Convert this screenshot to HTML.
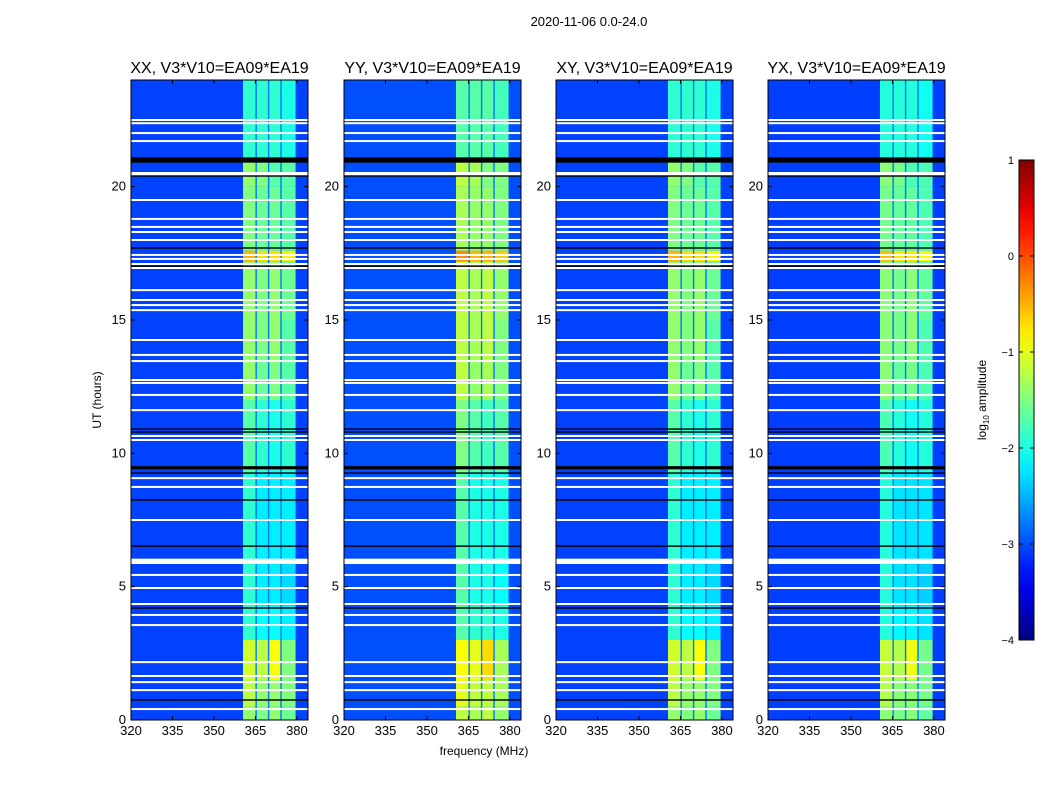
<!DOCTYPE html>
<html><head><meta charset="utf-8"><style>
body{margin:0;background:#fff;}
svg{display:block;font-family:"Liberation Sans","DejaVu Sans",sans-serif;}
</style></head><body>
<svg id="fig" width="1050" height="800" viewBox="0 0 1050 800">
<text x="589" y="26" font-size="13" text-anchor="middle">2020-11-06 0.0-24.0</text>
<text x="484" y="755" font-size="12" text-anchor="middle">frequency (MHz)</text>
<text transform="translate(101,400) rotate(-90)" font-size="12" text-anchor="middle">UT (hours)</text>
<g id="panels"></g>
<g id="cbar"></g>
<text transform="translate(986,400) rotate(-90)" font-size="12" text-anchor="middle">log<tspan font-size="8" dy="3">10</tspan><tspan dy="-3"> amplitude</tspan></text>
</svg>
<script>
const panelTitles = ["XX, V3*V10=EA09*EA19","YY, V3*V10=EA09*EA19","XY, V3*V10=EA09*EA19","YX, V3*V10=EA09*EA19"];
const panelOffsets = [0, 0.2, 0, -0.05];
const xTicks = [320,335,350,365,380];
const yTicks = [0,5,10,15,20];
const bandEdges = [[360.5,365],[365.5,369.5],[370,374],[374.5,379.5]];
const segTimes = [0,0.5,1.5,3.0,4.3,6.0,9.3,12.0,13.5,15.0,17.2,17.6,20.0,21.0,24];
const bandLevels = [
 [-1.4,-1.5,-1.4,-1.6],[-1.2,-1.4,-1.4,-1.5],[-1.1,-1.2,-0.9,-1.5],[-1.9,-2.1,-2.1,-2.2],
 [-1.9,-2.2,-2.2,-2.3],[-1.9,-2.2,-2.2,-2.2],[-1.7,-1.9,-2.0,-1.9],[-1.4,-1.6,-1.5,-1.7],
 [-1.4,-1.5,-1.4,-1.7],[-1.4,-1.5,-1.4,-1.6],[-0.5,-0.7,-0.7,-0.8],[-1.5,-1.6,-1.6,-1.7],
 [-1.4,-1.5,-1.7,-1.7],[-1.9,-1.9,-1.9,-2.0]];
const backgroundLevel = -3.05;
const gapLevel = -2.8;
const flagTimes = [22.5,22.38,22.01,21.71,19.5,18.79,18.49,18.3,18.0,17.44,17.29,17.1,16.95,16.12,15.75,15.56,15.37,14.25,13.69,13.46,12.75,12.64,12.19,11.62,10.65,10.5,9.07,8.74,7.5,5.44,4.95,4.35,3.94,3.56,2.17,1.65,1.42,1.12,0.41];
const flagWide = [[20.4,20.55],[5.85,6.05]];
const darkTimes = [20.4,17.7,17.02,10.91,10.8,9.26,8.25,6.52,4.2,0.75];
const darkWide = [[20.9,21.1],[9.4,9.52]];
const cbarTicks = [1,0,-1,-2,-3,-4];

function jet(v){let t=(v+4)/5;t=Math.max(0,Math.min(1,t));
 const f=x=>Math.round(255*Math.max(0,Math.min(1,1.5-Math.abs(4*t-x))));
 return `rgb(${f(3)},${f(2)},${f(1)})`;}
const NS="http://www.w3.org/2000/svg";
function mk(tag,attrs,parent){const e=document.createElementNS(NS,tag);for(const k in attrs)e.setAttribute(k,attrs[k]);parent.appendChild(e);return e;}
const panelX=[131,344,556,768], PW=177, PT=80, PB=720;
const fmin=320,fmax=384, tmax=24;
const panels=document.getElementById('panels');
panelX.forEach((x0,p)=>{
 const xs=f=>x0+(f-fmin)/(fmax-fmin)*PW;
 const ys=t=>PB-t/tmax*(PB-PT);
 const g=mk('g',{},panels);
 
 
 const off=panelOffsets[p];
 const bg=mk('rect',{x:x0,y:PT,width:PW,height:PB-PT,fill:jet(backgroundLevel+off*0.3)},g);
 
 
 const gp=mk('rect',{x:xs(bandEdges[0][0]),y:PT,width:xs(bandEdges[3][1])-xs(bandEdges[0][0]),height:PB-PT,fill:jet(gapLevel)},g);
 
 
 for(let s=0;s<segTimes.length-1;s++){
  bandEdges.forEach((b,c)=>{
   let lv=bandLevels[s][c]+off;
   const r=mk('rect',{x:xs(b[0]),y:ys(segTimes[s+1]),width:xs(b[1])-xs(b[0]),height:ys(segTimes[s])-ys(segTimes[s+1]),fill:jet(lv)},g);
   
   
  });
 }
 flagTimes.forEach(t=>{const r=mk('rect',{x:x0,y:ys(t)-1,width:PW,height:2,fill:'#fff'},g);
  
  });
 flagWide.forEach(w=>{const r=mk('rect',{x:x0,y:ys(w[1]),width:PW,height:ys(w[0])-ys(w[1]),fill:'#fff'},g);
  
  });
 darkTimes.forEach(t=>{const r=mk('rect',{x:x0,y:ys(t)-0.7,width:PW,height:1.4,fill:'#000'},g);
  
  });
 darkWide.forEach(w=>{const r=mk('rect',{x:x0,y:ys(w[1]),width:PW,height:ys(w[0])-ys(w[1]),fill:'#000'},g);
  
  });
 const fr=mk('rect',{x:x0,y:PT,width:PW,height:PB-PT,fill:'none',stroke:'#000','stroke-width':1},g);
 
 
 const tt=mk('text',{x:x0+PW/2,y:73,'font-size':16,'text-anchor':'middle'},g);tt.textContent=panelTitles[p];
 
 
 xTicks.forEach(v=>{const X=xs(v);
  mk('line',{x1:X,x2:X,y1:PB,y2:PB-4,stroke:'#000'},g);
  mk('line',{x1:X,x2:X,y1:PT,y2:PT+4,stroke:'#000'},g);
  const l=mk('text',{x:X,y:PB+15,'font-size':13,'text-anchor':'middle'},g);l.textContent=v;
  
  });
 yTicks.forEach(v=>{const Y=ys(v);
  mk('line',{x1:x0,x2:x0+4,y1:Y,y2:Y,stroke:'#000'},g);
  mk('line',{x1:x0+PW,x2:x0+PW-4,y1:Y,y2:Y,stroke:'#000'},g);
  const l=mk('text',{x:x0-5,y:Y+4,'font-size':13,'text-anchor':'end'},g);l.textContent=v;
  
  });
});
const cb=document.getElementById('cbar');
const CX=1019,CW=15,CT=160,CB=640;
const defs=mk('defs',{},cb);
const gr=mk('linearGradient',{id:'jetg',x1:0,y1:1,x2:0,y2:0},defs);
for(let i=0;i<=20;i++){mk('stop',{offset:i/20,'stop-color':jet(-4+5*i/20)},gr);}
mk('rect',{x:CX,y:CT,width:CW,height:CB-CT,fill:'url(#jetg)',stroke:'#000'},cb);
cbarTicks.forEach(v=>{const Y=CB-(v+4)/5*(CB-CT);
 mk('line',{x1:CX,x2:CX+4,y1:Y,y2:Y,stroke:'#000'},cb);
 mk('line',{x1:CX+CW,x2:CX+CW-4,y1:Y,y2:Y,stroke:'#000'},cb);
 const l=mk('text',{x:CX-5,y:Y+4,'font-size':11,'text-anchor':'end'},cb);l.textContent=(v<0?'\u2212'+(-v):v);
 
 });
</script>
</body></html>
